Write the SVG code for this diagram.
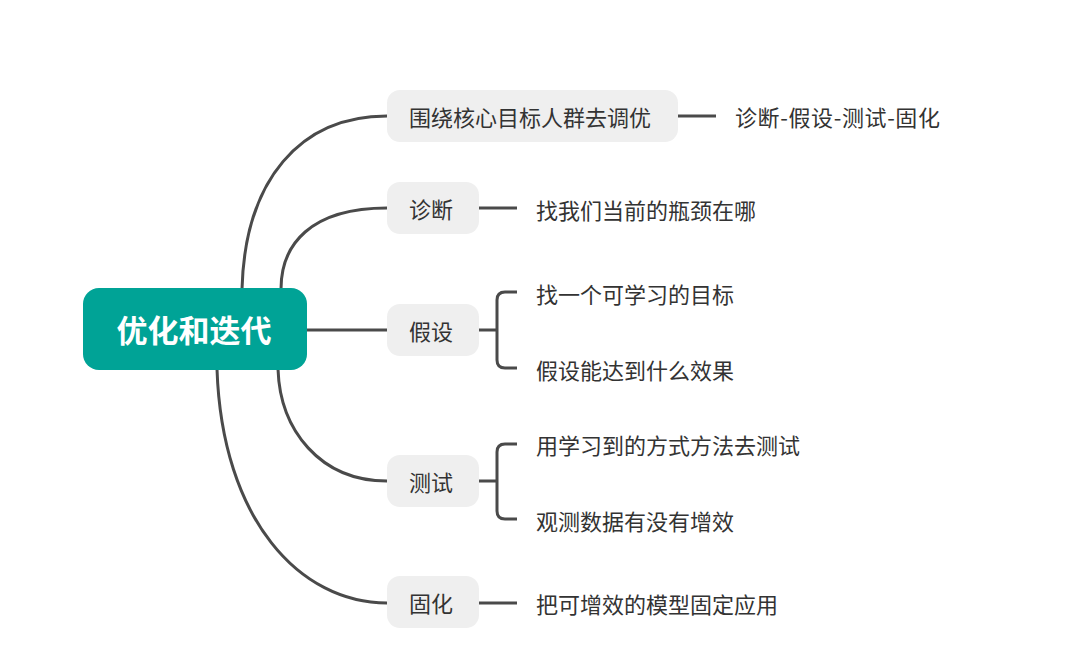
<svg xmlns="http://www.w3.org/2000/svg" width="1080" height="658" viewBox="0 0 1080 658">
<style>
.ln{fill:none;stroke:#4a4a4a;stroke-width:3;stroke-linecap:butt;stroke-linejoin:round}
.box{fill:#efefef}
.t{font-family:"Noto Sans CJK SC","Noto Sans",sans-serif;font-size:22px;fill:#333;dominant-baseline:central}
.root{font-family:"Noto Sans CJK SC","Noto Sans",sans-serif;font-size:31px;font-weight:bold;fill:#fff;dominant-baseline:central;text-anchor:middle}
</style>
<rect width="1080" height="658" fill="#fff"/>
<g id="connectors">
<path class="ln" d="M242,289 C245,180 300,116 387,116"/>
<path class="ln" d="M281,289 C281,245 310,208 387,208"/>
<path class="ln" d="M307,330 L387,330"/>
<path class="ln" d="M278,369 C280,430 320,481 387,481"/>
<path class="ln" d="M217,369 C222,520 300,603 387,603"/>
<path class="ln" d="M678,116 L716,116"/>
<path class="ln" d="M479,208 L517,208"/>
<path class="ln" d="M479,330 L497,330 M517,292 L505,292 Q497,292 497,300 L497,360 Q497,368 505,368 L517,368"/>
<path class="ln" d="M479,481 L497,481 M517,444 L505,444 Q497,444 497,452 L497,511 Q497,519 505,519 L517,519"/>
<path class="ln" d="M479,603 L517,603"/>
</g>
<g id="root">
<rect x="83" y="288" width="224" height="82" rx="16" fill="#00a396"/>
<text class="root" x="194" y="328">优化和迭代</text>
</g>
<g id="n1">
<rect class="box" x="387" y="90" width="291" height="52" rx="13"/>
<text class="t" x="409" y="116">围绕核心目标人群去调优</text>
</g>
<g id="n1c"><text class="t" x="735" y="116" textLength="205">诊断-假设-测试-固化</text></g>
<g id="n2">
<rect class="box" x="387" y="182" width="92" height="52" rx="13"/>
<text class="t" x="409" y="208">诊断</text>
</g>
<g id="n2c"><text class="t" x="536" y="209">找我们当前的瓶颈在哪</text></g>
<g id="n3">
<rect class="box" x="387" y="304" width="92" height="52" rx="13"/>
<text class="t" x="409" y="330">假设</text>
</g>
<g id="n3a"><text class="t" x="536" y="293">找一个可学习的目标</text></g>
<g id="n3b"><text class="t" x="536" y="369">假设能达到什么效果</text></g>
<g id="n4">
<rect class="box" x="387" y="455" width="92" height="52" rx="13"/>
<text class="t" x="409" y="481">测试</text>
</g>
<g id="n4a"><text class="t" x="536" y="444">用学习到的方式方法去测试</text></g>
<g id="n4b"><text class="t" x="536" y="520">观测数据有没有增效</text></g>
<g id="n5">
<rect class="box" x="387" y="576" width="92" height="52" rx="13"/>
<text class="t" x="409" y="602">固化</text>
</g>
<g id="n5c"><text class="t" x="536" y="603">把可增效的模型固定应用</text></g>
</svg>
